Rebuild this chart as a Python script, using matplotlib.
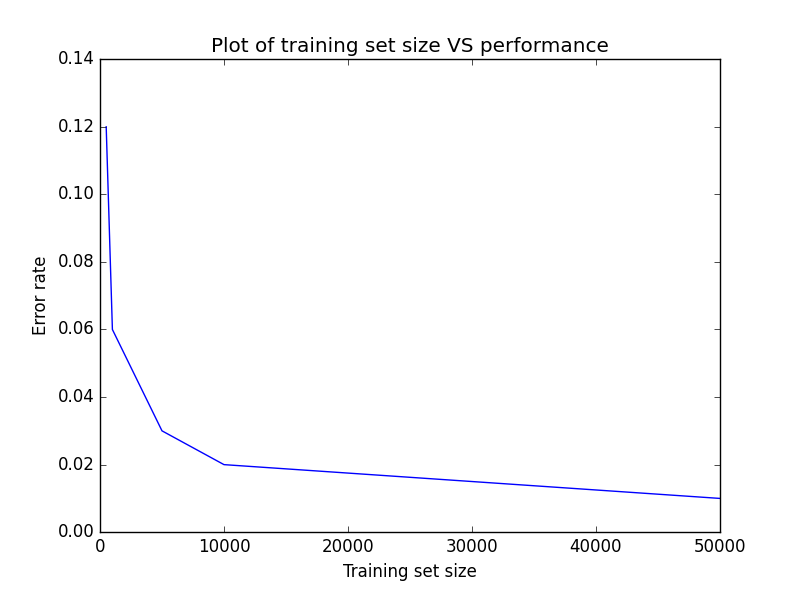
import matplotlib
matplotlib.use('Agg')
import matplotlib.pyplot as plt

plt.style.use('classic')

# training set sizes and error rates
sizes=[500,1000,5000,10000,50000]
errors=[0.12,0.06,0.03,0.02,0.01]

fig=plt.figure(figsize=(8,5.92),dpi=100,facecolor='white')
ax=fig.add_subplot(111)
fig.subplots_adjust(left=0.125,right=0.9,bottom=0.101,top=0.9)
ax.plot(sizes,errors,color='b')
ax.set_ylim(0,0.14)
ax.set_xlim(0,50000)
ax.set_xlabel('Training set size')
ax.set_ylabel('Error rate')
ax.set_title('Plot of training set size VS performance')
fig.savefig('out.png',dpi=100,facecolor='white')
